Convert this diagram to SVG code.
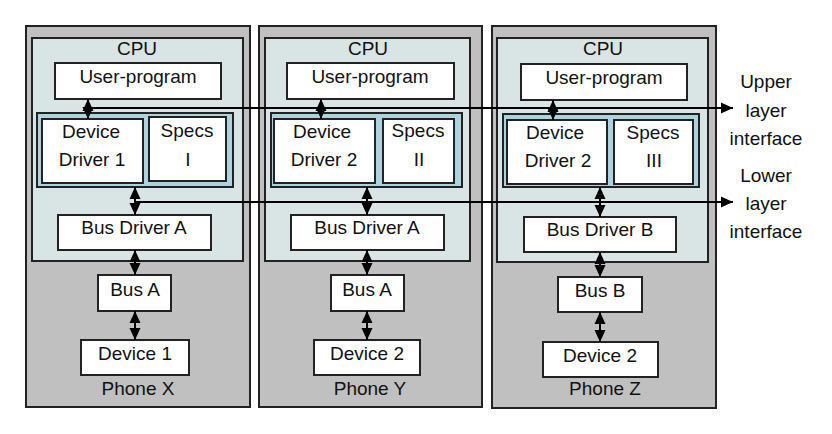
<svg xmlns="http://www.w3.org/2000/svg" width="832" height="434" viewBox="0 0 832 434">
<defs>
<marker id="ah" viewBox="0 0 12 12" refX="12" refY="6" markerWidth="12" markerHeight="12" markerUnits="userSpaceOnUse" orient="auto-start-reverse">
<path d="M0,0.5 L12,6 L0,11.5 Z" fill="#000"/>
</marker>
<style>
.phone{fill:#c0c0c0;stroke:#222;stroke-width:2}
.cpu{fill:#d9e4e4;stroke:#222;stroke-width:2}
.grp{fill:#add3df;stroke:#222;stroke-width:2}
.box{fill:#fff;stroke:#222;stroke-width:2}
text{font-family:"Liberation Sans",Arial,sans-serif;font-size:19px;fill:#111;text-anchor:middle}
.c{stroke:#000;stroke-width:2;fill:none}
</style>
</defs>
<rect width="832" height="434" fill="#fff"/>

<g id="phoneX">
<rect class="phone" x="26" y="26" width="224" height="381"/>
<text x="138" y="395">Phone X</text>
</g>
<g id="cpuX">
<rect class="cpu" x="32" y="38" width="211" height="223"/>
<text x="137" y="55">CPU</text>
</g>
<g id="userX"><rect class="box" x="55" y="63" width="166" height="36"/><text x="138" y="83">User-program</text></g>
<g id="grpX"><rect class="grp" x="37" y="113" width="196" height="74"/></g>
<g id="ddX"><rect class="box" x="42" y="119" width="101" height="64"/><text x="91" y="138">Device</text><text x="92" y="166">Driver 1</text></g>
<g id="specsX"><rect class="box" x="149" y="117" width="77" height="64"/><text x="187" y="137">Specs</text><text x="188" y="166">I</text></g>
<g id="bdX"><rect class="box" x="58" y="215" width="153" height="35"/><text x="134" y="234">Bus Driver A</text></g>
<g id="busX"><rect class="box" x="98" y="275" width="73" height="36"/><text x="135" y="296">Bus A</text></g>
<g id="devX"><rect class="box" x="81" y="340" width="108" height="35"/><text x="135" y="360">Device 1</text></g>

<g id="phoneY">
<rect class="phone" x="259" y="26" width="223" height="381"/>
<text x="370" y="395">Phone Y</text>
</g>
<g id="cpuY">
<rect class="cpu" x="265" y="38" width="205" height="223"/>
<text x="368" y="55">CPU</text>
</g>
<g id="userY"><rect class="box" x="287" y="63" width="167" height="36"/><text x="370" y="83">User-program</text></g>
<g id="grpY"><rect class="grp" x="271" y="113" width="191" height="74"/></g>
<g id="ddY"><rect class="box" x="274" y="119" width="101" height="64"/><text x="322" y="138">Device</text><text x="324" y="166">Driver 2</text></g>
<g id="specsY"><rect class="box" x="383" y="119" width="71" height="64"/><text x="418" y="137">Specs</text><text x="419" y="166">II</text></g>
<g id="bdY"><rect class="box" x="291" y="215" width="153" height="35"/><text x="367" y="234">Bus Driver A</text></g>
<g id="busY"><rect class="box" x="331" y="275" width="73" height="36"/><text x="367" y="296">Bus A</text></g>
<g id="devY"><rect class="box" x="314" y="340" width="106" height="35"/><text x="367" y="360">Device 2</text></g>

<g id="phoneZ">
<rect class="phone" x="492" y="26" width="224" height="382"/>
<text x="605" y="395">Phone Z</text>
</g>
<g id="cpuZ">
<rect class="cpu" x="497" y="38" width="211" height="224"/>
<text x="603" y="55">CPU</text>
</g>
<g id="userZ"><rect class="box" x="521" y="64" width="166" height="36"/><text x="604" y="84">User-program</text></g>
<g id="grpZ"><rect class="grp" x="503" y="114" width="196" height="73"/></g>
<g id="ddZ"><rect class="box" x="507" y="120" width="100" height="64"/><text x="555" y="139">Device</text><text x="558" y="167">Driver 2</text></g>
<g id="specsZ"><rect class="box" x="614" y="120" width="79" height="64"/><text x="653" y="139">Specs</text><text x="654" y="167">III</text></g>
<g id="bdZ"><rect class="box" x="524" y="217" width="152" height="35"/><text x="600" y="236">Bus Driver B</text></g>
<g id="busZ"><rect class="box" x="558" y="277" width="84" height="35"/><text x="600" y="297">Bus B</text></g>
<g id="devZ"><rect class="box" x="543" y="342" width="115" height="35"/><text x="600" y="362">Device 2</text></g>

<g id="labels">
<text x="766" y="88">Upper</text>
<text x="766" y="117">layer</text>
<text x="766" y="145">interface</text>
<text x="766" y="182">Lower</text>
<text x="766" y="210">layer</text>
<text x="766" y="238">interface</text>
</g>

<g id="connectors">
<line class="c" x1="88" y1="108" x2="733" y2="108" marker-end="url(#ah)"/>
<line class="c" x1="135" y1="202" x2="733" y2="202" marker-end="url(#ah)"/>
<line class="c" x1="88" y1="99" x2="88" y2="119" marker-start="url(#ah)" marker-end="url(#ah)"/>
<line class="c" x1="135" y1="187" x2="135" y2="215" marker-start="url(#ah)" marker-end="url(#ah)"/>
<line class="c" x1="135" y1="250" x2="135" y2="275" marker-start="url(#ah)" marker-end="url(#ah)"/>
<line class="c" x1="135" y1="311" x2="135" y2="340" marker-start="url(#ah)" marker-end="url(#ah)"/>
<line class="c" x1="321" y1="99" x2="321" y2="119" marker-start="url(#ah)" marker-end="url(#ah)"/>
<line class="c" x1="367" y1="187" x2="367" y2="215" marker-start="url(#ah)" marker-end="url(#ah)"/>
<line class="c" x1="367" y1="250" x2="367" y2="275" marker-start="url(#ah)" marker-end="url(#ah)"/>
<line class="c" x1="367" y1="311" x2="367" y2="340" marker-start="url(#ah)" marker-end="url(#ah)"/>
<line class="c" x1="553" y1="100" x2="553" y2="120" marker-start="url(#ah)" marker-end="url(#ah)"/>
<line class="c" x1="600" y1="187" x2="600" y2="217" marker-start="url(#ah)" marker-end="url(#ah)"/>
<line class="c" x1="600" y1="252" x2="600" y2="277" marker-start="url(#ah)" marker-end="url(#ah)"/>
<line class="c" x1="600" y1="312" x2="600" y2="342" marker-start="url(#ah)" marker-end="url(#ah)"/>
</g>
</svg>
